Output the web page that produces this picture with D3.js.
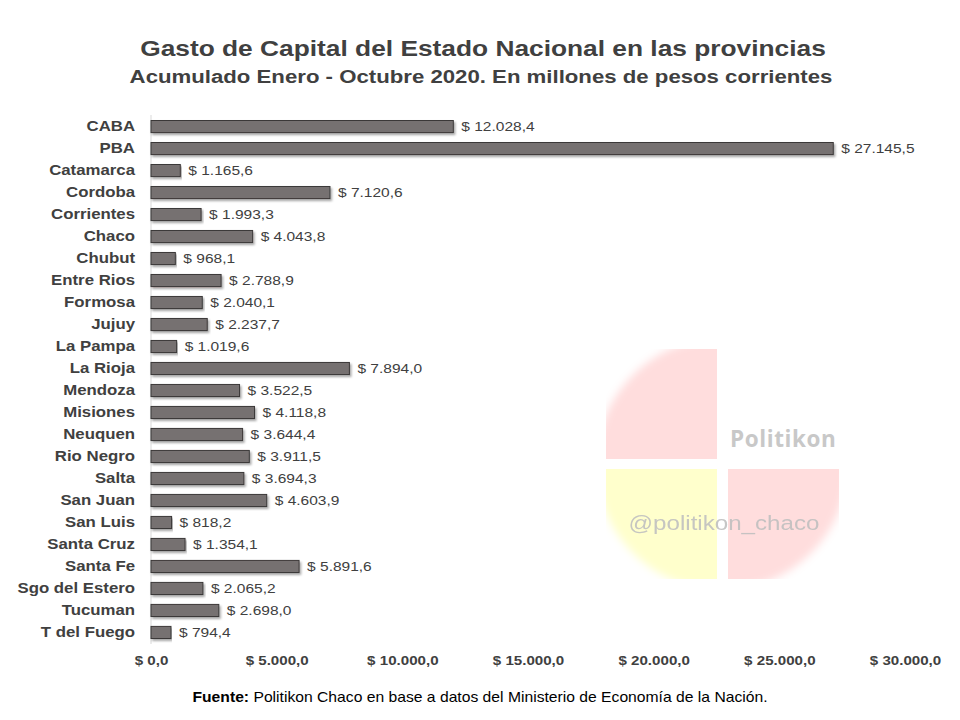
<!DOCTYPE html>
<html>
<head>
<meta charset="utf-8">
<script src="https://cdn.jsdelivr.net/npm/d3@7"></script>
<style>
  body { margin: 0; background: #fff; }
  svg { font-family: "Liberation Sans", Arial, sans-serif; }
</style>
</head>
<body>
<div id="chart"></div>
<script>
// data
var provincias = ["CABA","PBA","Catamarca","Cordoba","Corrientes","Chaco","Chubut","Entre Rios","Formosa","Jujuy","La Pampa","La Rioja","Mendoza","Misiones","Neuquen","Rio Negro","Salta","San Juan","San Luis","Santa Cruz","Santa Fe","Sgo del Estero","Tucuman","T del Fuego"];
var gasto = [12028.4,27145.5,1165.6,7120.6,1993.3,4043.8,968.1,2788.9,2040.1,2237.7,1019.6,7894.0,3522.5,4118.8,3644.4,3911.5,3694.3,4603.9,818.2,1354.1,5891.6,2065.2,2698.0,794.4];
var xTicks = [0,5000,10000,15000,20000,25000,30000];

var width = 960, height = 720;
var margin = {top: 115, right: 55, bottom: 75, left: 151};

var es = d3.formatLocale({decimal: ",", thousands: ".", grouping: [3], currency: ["$ ", ""]});
var fmt = es.format(",.1f");

var svg = d3.select("#chart").append("svg")
  .attr("width", width).attr("height", height);

// text in the picture is a bit wider than Arial, so stretch it horizontally
function stretchText(sel, px, py, sx) {
  return sel.attr("transform", "translate(" + px + "," + py + ") scale(" + sx + ",1)");
}

var defs = svg.append("defs");
var sh = defs.append("filter").attr("id", "shadow")
  .attr("x", "-5%").attr("y", "-50%").attr("width", "110%").attr("height", "250%");
sh.append("feDropShadow").attr("dx", 1.5).attr("dy", 2).attr("stdDeviation", 1.2)
  .attr("flood-color", "#000").attr("flood-opacity", 0.35);

var blur = defs.append("filter").attr("id", "soft");
blur.append("feGaussianBlur").attr("stdDeviation", 4);
var mask = defs.append("mask").attr("id", "circleMask");
mask.append("circle").attr("cx", 722).attr("cy", 464).attr("r", 126)
  .attr("fill", "#fff").attr("filter", "url(#soft)");

// watermark
var wm = svg.append("g");
var wmq = wm.append("g").attr("mask", "url(#circleMask)");
wmq.append("rect").attr("x", 606).attr("y", 349).attr("width", 111).attr("height", 110).attr("fill", "#ffdddd");
wmq.append("rect").attr("x", 606).attr("y", 469).attr("width", 111).attr("height", 110).attr("fill", "#ffffcc");
wmq.append("rect").attr("x", 728).attr("y", 469).attr("width", 111).attr("height", 110).attr("fill", "#ffdddd");
stretchText(wm.append("text"), 730, 447, 1.0).text("Politikon")
  .attr("font-family", "'Open Sans', sans-serif").attr("font-weight", "bold")
  .attr("font-size", 22.5).attr("fill", "#c8c8c8").attr("letter-spacing", 0.6);
stretchText(wm.append("text"), 724, 530, 1.15).attr("text-anchor", "middle").text("@politikon_chaco")
  .attr("font-family", "Arial, 'Liberation Sans', sans-serif")
  .attr("font-size", 21).attr("fill", "#c0c0c0").attr("opacity", 0.9);

var x = d3.scaleLinear().domain([0, 30000]).range([margin.left, 905]);
var y = d3.scaleBand().domain(provincias).range([115, 644]).paddingInner(0.45).paddingOuter(0.25);

// titles
stretchText(svg.append("text"), 483, 56, 1.17).attr("text-anchor", "middle")
  .attr("font-size", 22.5).attr("font-weight", "bold").attr("fill", "#404040")
  .text("Gasto de Capital del Estado Nacional en las provincias");
stretchText(svg.append("text"), 481, 83, 1.2).attr("text-anchor", "middle")
  .attr("font-size", 18.5).attr("font-weight", "bold").attr("fill", "#404040")
  .text("Acumulado Enero - Octubre 2020. En millones de pesos corrientes");

// axis line
svg.append("line").attr("x1", margin.left).attr("x2", margin.left)
  .attr("y1", 115).attr("y2", 644).attr("stroke", "#d9d9d9");

// y labels
var yAxis = svg.append("g").attr("transform", "translate(" + (margin.left - 16) + ",0)")
  .call(d3.axisLeft(y).tickSize(0).tickPadding(0));
yAxis.select(".domain").remove();
yAxis.selectAll("text").attr("font-size", 15).attr("font-weight", "bold")
  .attr("fill", "#404040").attr("font-family", "'Liberation Sans', Arial, sans-serif")
  .attr("transform", "scale(1.12,1)");

// x labels
var xAxis = svg.append("g").attr("transform", "translate(0,655)")
  .call(d3.axisBottom(x).tickValues(xTicks).tickSize(0).tickPadding(0).tickFormat(function(d){ return "$ " + fmt(d); }));
xAxis.select(".domain").remove();
xAxis.selectAll("text").attr("font-size", 13.5).attr("font-weight", "bold")
  .attr("fill", "#404040").attr("font-family", "'Liberation Sans', Arial, sans-serif")
  .attr("transform", "scale(1.12,1)");

// bars
var rows = provincias.map(function(p, i){ return {p: p, v: gasto[i]}; });
svg.selectAll(".bar").data(rows).enter().append("rect")
  .attr("class", "bar")
  .attr("x", x(0))
  .attr("y", function(d){ return y(d.p); })
  .attr("width", function(d){ return x(d.v) - x(0); })
  .attr("height", y.bandwidth())
  .attr("fill", "#767171")
  .attr("stroke", "#3b3838").attr("stroke-width", 1)
  .attr("filter", "url(#shadow)");

svg.selectAll(".val").data(rows).enter().append("text")
  .attr("class", "val")
  .attr("transform", function(d){
    return "translate(" + (x(d.v) + 8) + "," + (y(d.p) + y.bandwidth() / 2) + ") scale(1.15,1)";
  })
  .attr("dy", "0.35em")
  .attr("font-size", 13.5).attr("fill", "#404040")
  .text(function(d){ return "$ " + fmt(d.v); });

// footer
var foot = stretchText(svg.append("text"), 480, 702, 1.12).attr("text-anchor", "middle")
  .attr("font-size", 14).attr("fill", "#000");
foot.append("tspan").attr("font-weight", "bold").text("Fuente:");
foot.append("tspan").text(" Politikon Chaco en base a datos del Ministerio de Economía de la Nación.");
</script>
</body>
</html>
